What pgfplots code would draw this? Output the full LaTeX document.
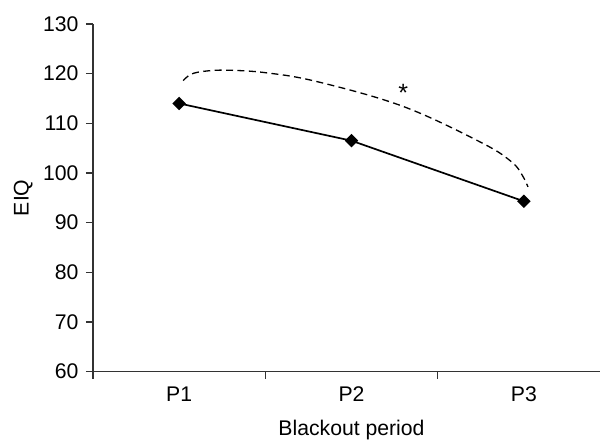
\documentclass[border=0pt]{standalone}
\usepackage{pgfplots}
\pgfplotsset{compat=1.18}
\usepackage{fontspec}
\setmainfont{Liberation Sans}

\begin{document}
\begin{tikzpicture}
\fontsize{10.6}{12}\selectfont
\begin{axis}[name=ax,
  width=258.5pt, height=173.8pt, scale only axis,
  axis lines=left, axis line style={-, line width=0.7pt, black!80},
  xmin=0.5, xmax=3.5, ymin=60, ymax=130,
  ytick={60,70,...,130},
  xtick={0.5,1.5,2.5,3.5}, xticklabels={},
  extra x ticks={1,2,3}, extra x tick labels={P1,P2,P3},
  extra x tick style={major tick length=0pt, xticklabel style={yshift=-4pt}},
  tick align=outside,
  major tick length=3.5pt,
  tick style={line width=0.7pt, black!80},
  /pgf/number format/assume math mode=true,
  yticklabel style={font=\fontsize{10.6}{12}\selectfont},
  xticklabel style={font=\fontsize{10.6}{12}\selectfont},
  xlabel={Blackout period}, ylabel={EIQ},
  xlabel style={at={(axis description cs:0.5,0)}, anchor=center, yshift=-29pt, font=\fontsize{10.6}{12}\selectfont},
  ylabel style={at={(axis description cs:-0.135,0.5)}, anchor=center, font=\fontsize{10.6}{12}\selectfont},
  clip=false,
]
\addplot[black, line width=0.85pt, mark=square*, mark size=1.95pt, mark options={rotate=45, solid}]
  coordinates {(1,114.0) (2,106.5) (3,94.3)};
\addplot[black, line width=0.65pt, dash pattern=on 3.5pt off 2.2pt, smooth, tension=0.6]
  coordinates {(1.023,118.6) (1.07,119.9) (1.15,120.5) (1.275,120.7) (1.5,120.2) (1.8,118.4) (2.3,113.4) (2.76,106.0) (2.93,102.2) (2.99,99.6) (3.024,97.2)};
\node[font=\fontsize{12.5}{14}\selectfont] at (axis cs:2.3,116.2) {*};
\end{axis}
\pgfresetboundingbox
\path ([xshift=-46.5pt,yshift=-35.7pt]ax.south west) rectangle ([xshift=-5pt,yshift=12pt]ax.north east);
\end{tikzpicture}
\end{document}
